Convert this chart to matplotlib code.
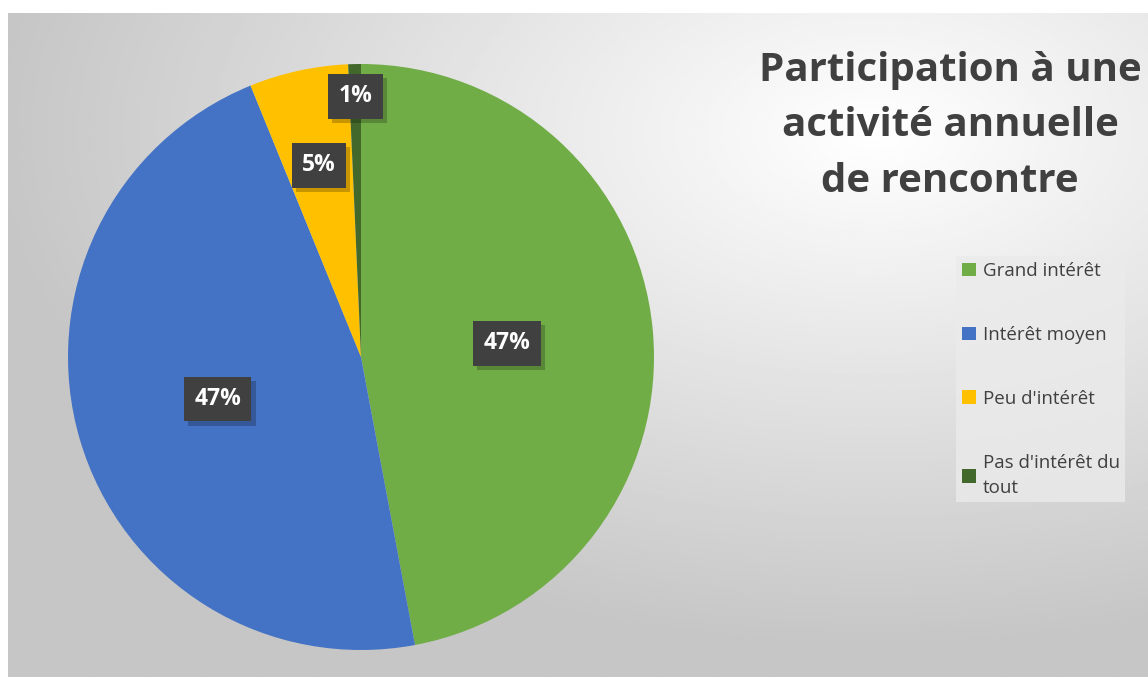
import numpy as np
import matplotlib
matplotlib.use("Agg")
import matplotlib.pyplot as plt
import matplotlib.patheffects as pe

# data
categories = ["Grand intérêt", "Intérêt moyen", "Peu d'intérêt", "Pas d'intérêt du\ntout"]
shares = [47.05, 46.8, 5.45, 0.7]
colors = ["#70ad47", "#4472c4", "#ffc000", "#43682b"]
label_radius = [0.50, 0.51, 0.67, 0.89]

W, H = 1148, 677
fig = plt.figure(figsize=(W / 100, H / 100), dpi=100)
fig.patch.set_facecolor("white")

# chart area with radial grey gradient
bg = fig.add_axes([8 / W, 0, 1 - 8 / W, (H - 13) / H])
gx, gy = np.meshgrid(np.linspace(0, 1, 400), np.linspace(0, 1, 300))
d = np.sqrt((gx - 0.76) ** 2 + (gy - 0.18) ** 2)
v = np.clip(1 - 0.29 * d, 0.775, 1)
bg.imshow(v, cmap="gray", vmin=0, vmax=1, aspect="auto", extent=[0, 1, 1, 0])
bg.set_axis_off()

# pie
cx, cy, r = 361, 357, 293
ax = fig.add_axes([(cx - r) / W, (H - cy - r) / H, 2 * r / W, 2 * r / H])
wedges, _ = ax.pie(shares, colors=colors, startangle=90, counterclock=False,
                   wedgeprops=dict(linewidth=0))
ax.set_xlim(-1, 1)
ax.set_ylim(-1, 1)
ax.set_aspect("equal")
ax.set_axis_off()

for w, s, lr in zip(wedges, shares, label_radius):
    ang = np.deg2rad((w.theta1 + w.theta2) / 2)
    t = ax.text(lr * np.cos(ang), lr * np.sin(ang), f"{round(s)}%",
                ha="center", va="center", color="white", fontsize=16.5,
                fontweight="bold", family="Open Sans",
                bbox=dict(boxstyle="square,pad=0.45", facecolor="#404040",
                          edgecolor="none", linewidth=0))
    t.get_bbox_patch().set_path_effects([
        pe.SimplePatchShadow(offset=(3, -3), alpha=0.22, shadow_rgbFace="black"),
        pe.Normal()])

# title
fig.text(950 / W, 1 - 126 / H, "Participation à une\nactivité annuelle\nde rencontre",
         ha="center", va="center", fontsize=29, fontweight="bold",
         color="#404040", family="Open Sans", linespacing=1.55)

# legend
leg = fig.legend(wedges, categories, loc="upper left",
                 bbox_to_anchor=(947 / W, 1 - 247 / H), frameon=True,
                 labelspacing=2.45, handlelength=0.75,
                 handleheight=0.75, handletextpad=0.35, borderpad=0.3,
                 prop=dict(family="Open Sans", size=13.5))
leg.get_frame().set_facecolor("#ebebeb")
leg.get_frame().set_edgecolor("none")
leg.get_frame().set_boxstyle("square", pad=0)
for txt in leg.get_texts():
    txt.set_color("#404040")
    txt.set_linespacing(1.5)

fig.savefig("out.png", dpi=100)
